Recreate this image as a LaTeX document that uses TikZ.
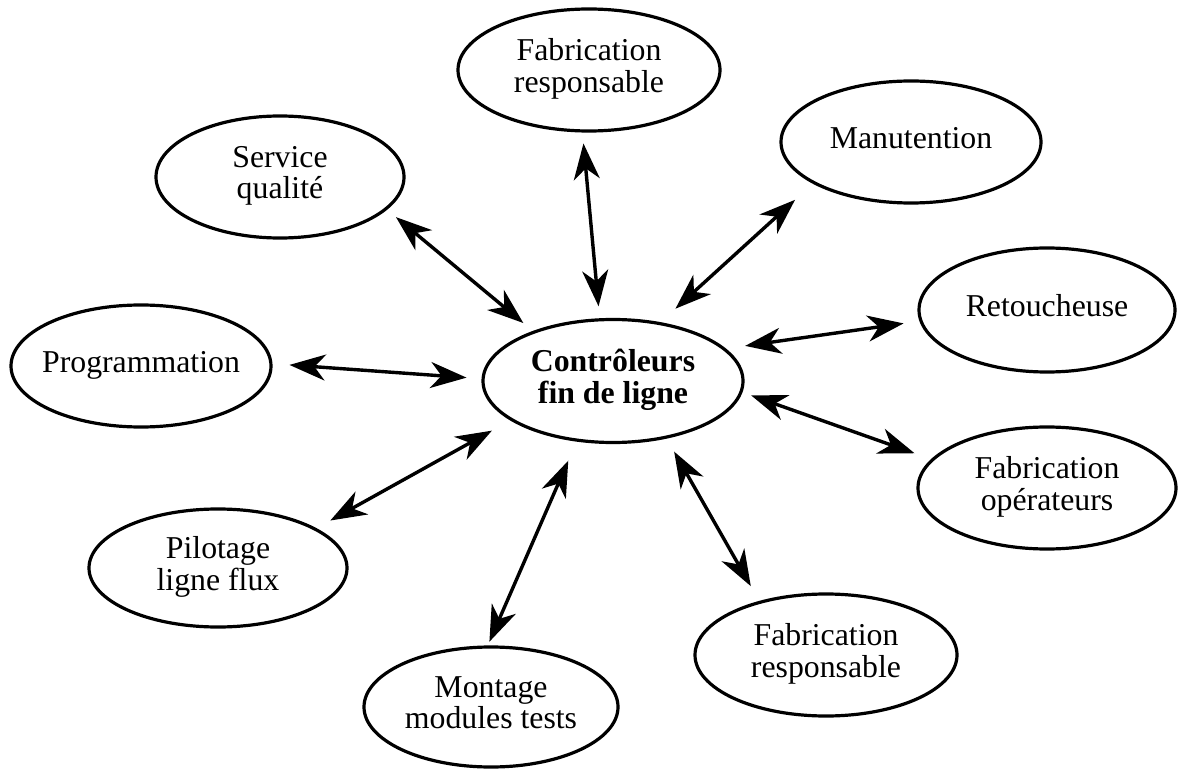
\documentclass[tikz,border=0pt]{standalone}
\usepackage{fontspec}
\setmainfont{Liberation Serif}
\usetikzlibrary{arrows.meta,shapes.geometric}
\newcommand\elltext[1]{\makebox[0pt]{\begin{tabular}{@{}c@{}}#1\end{tabular}}}
\begin{document}
\begin{tikzpicture}[x=0.5pt,y=-0.5pt,
  ell/.style={draw, line width=1.6pt, ellipse, inner sep=0pt,
    minimum width=129pt, minimum height=61pt,
    font=\fontsize{15.9pt}{15.4pt}\selectfont},
  biarrow/.style={line width=1.7pt, >={Stealth[length=18pt,width=13pt,inset=5.5pt]}, <->}]
\useasboundingbox (0,0) rectangle (1178,770);
\node[ell, minimum width=130pt, minimum height=61.5pt, font=\fontsize{15.9pt}{15.4pt}\selectfont\bfseries] (C) at (613,381) {\elltext{Contrôleurs\\fin de ligne}};
\node[ell, minimum width=131pt] (F1) at (589,70) {\elltext{Fabrication\\responsable}};
\node[ell, minimum width=130pt] (M) at (911,142) {\elltext{Manutention}};
\node[ell, minimum width=124pt] (S) at (280,177) {\elltext{Service\\qualité}};
\node[ell, minimum width=130pt] (P) at (141,366) {\elltext{Programmation}};
\node[ell, minimum width=128pt, minimum height=62pt] (R) at (1047,310) {\elltext{Retoucheuse}};
\node[ell] (O) at (1047,488) {\elltext{Fabrication\\opérateurs}};
\node[ell, minimum height=59pt] (L) at (218,568) {\elltext{Pilotage\\ligne flux}};
\node[ell, minimum width=127pt, minimum height=60pt] (Mo) at (491,707) {\elltext{Montage\\modules tests}};
\node[ell, minimum width=131pt] (F2) at (826,655) {\elltext{Fabrication\\responsable}};
\draw[biarrow, shorten <=6pt, shorten >=5.5pt] (C.102) -- (F1.-96);
\draw[biarrow, shorten <=10pt, shorten >=12pt] (C.51) -- (M.-157);
\draw[biarrow, shorten <=6.2pt, shorten >=5.8pt] (C.148) -- (S.-17);
\draw[biarrow, shorten <=7.5pt, shorten >=8.5pt] (C.179) -- (P.1);
\draw[biarrow, shorten <=9.7pt, shorten >=8pt] (C.16) -- (R.-175);
\draw[biarrow, shorten <=4.6pt, shorten >=8.8pt] (C.-5) -- (O.166);
\draw[biarrow, shorten <=10.5pt, shorten >=7.9pt] (C.-159) -- (L.22);
\draw[biarrow, shorten <=10.4pt, shorten >=2pt] (C.-121) -- (Mo.93);
\draw[biarrow, shorten <=7.5pt, shorten >=8.5pt] (C.-47) -- (F2.141);
\end{tikzpicture}
\end{document}
